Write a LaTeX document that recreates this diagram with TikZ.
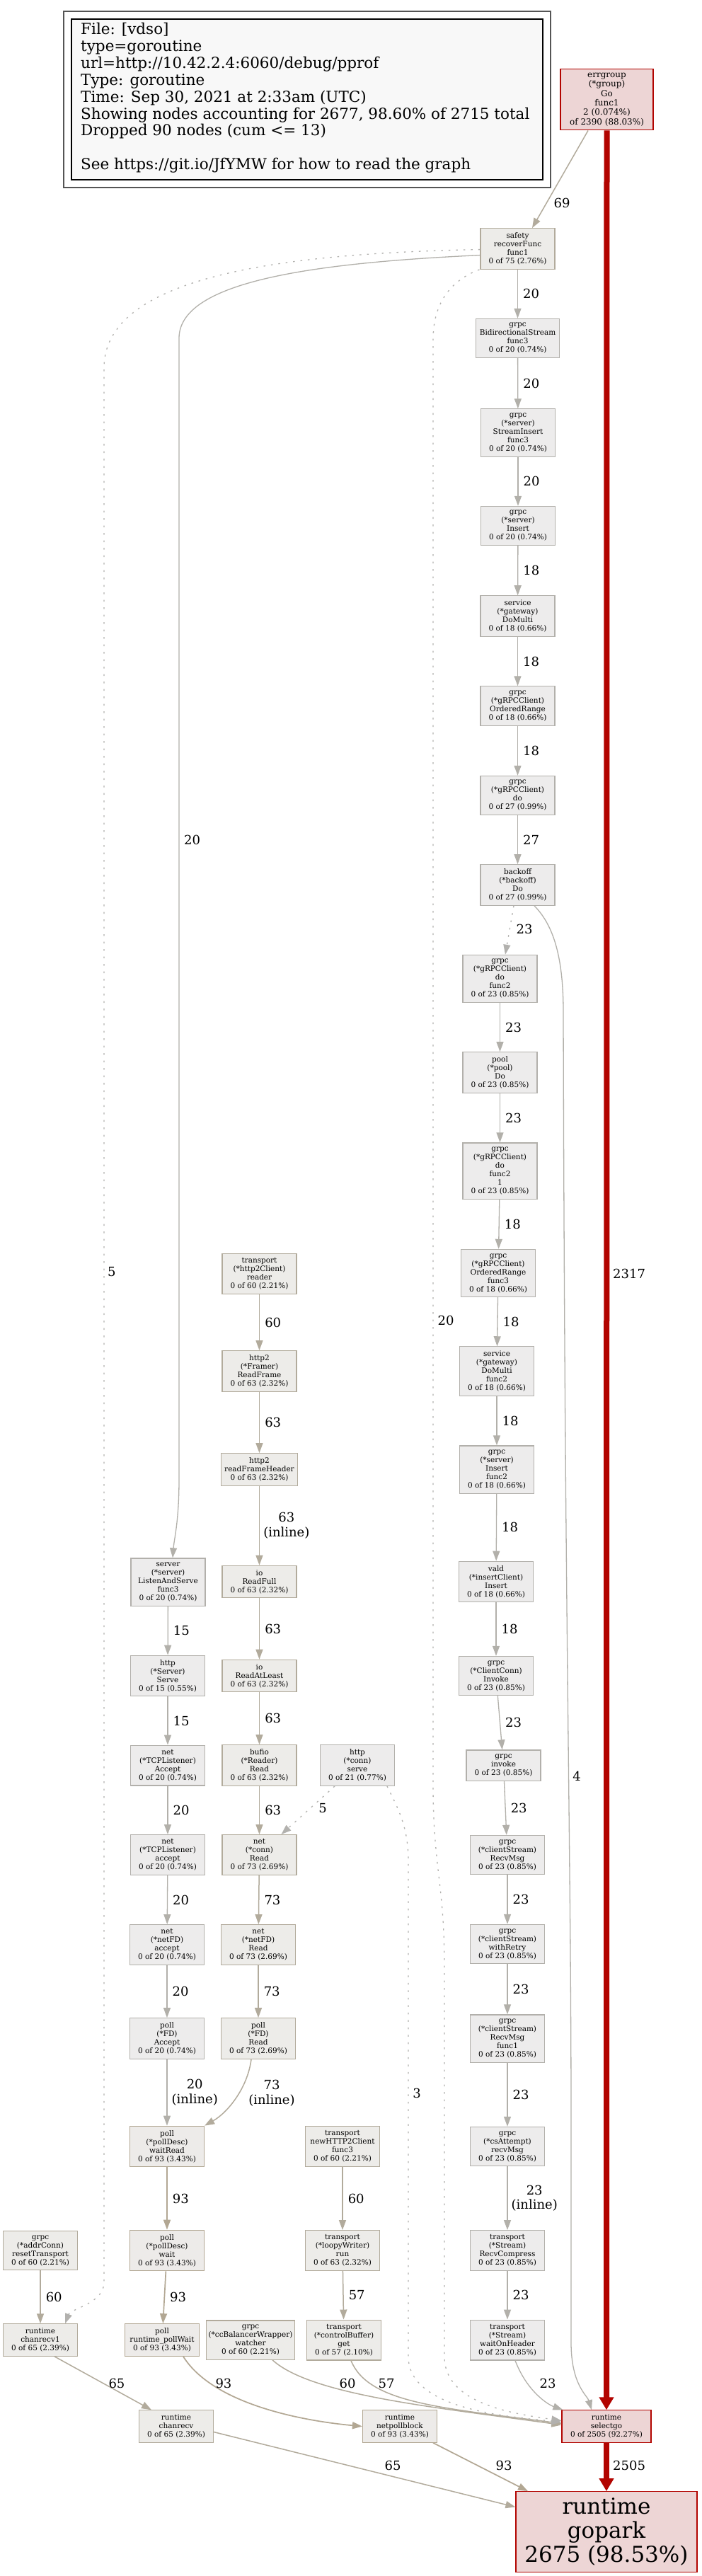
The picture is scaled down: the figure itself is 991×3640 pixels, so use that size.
\documentclass[tikz,border=0pt]{standalone}
\usepackage{fontspec}
\setmainfont{DejaVu Serif}
\usetikzlibrary{arrows.meta}
\definecolor{fillS}{HTML}{EDECEC}
\definecolor{fillM}{HTML}{EDECE9}
\definecolor{fillH}{HTML}{EDEBE9}
\definecolor{fillR}{HTML}{EDD5D5}
\definecolor{bordS}{HTML}{B2B0AB}
\definecolor{bordM}{HTML}{B2AB9C}
\definecolor{bordH}{HTML}{B2A793}
\definecolor{bordR}{HTML}{B20400}
\definecolor{edgeS}{HTML}{B2B0AA}
\definecolor{edgeD}{HTML}{B2B1AE}
\definecolor{edgeM}{HTML}{B2AB9C}
\definecolor{edgeH}{HTML}{B2A793}
\definecolor{edgeR}{HTML}{B20400}
\definecolor{legfill}{HTML}{F8F8F8}
\definecolor{legout}{HTML}{555555}
\newcommand\pfNode{\fontsize{10.5}{12}\selectfont}
\newcommand\pfErr{\fontsize{12}{13.3}\selectfont}
\newcommand\pfLab{\fontsize{18}{20.7}\selectfont}
\newcommand\pfLeg{\fontsize{21.5}{23.9}\selectfont}
\newcommand\pfBig{\fontsize{31}{34}\selectfont}
\tikzset{
  fnS/.style={draw=bordS, fill=fillS, line width=1.2pt, font=\pfNode, align=center, inner xsep=5pt, inner ysep=6pt, minimum width=105pt},
  fnM/.style={fnS, draw=bordM, fill=fillM},
  fnH/.style={fnS, draw=bordH, fill=fillH},
  fnR/.style={fnS, draw=bordR, fill=fillR},
  eS/.style={draw=edgeS, line width=1.3pt, -{Triangle[length=14pt,width=10pt]}},
  eD/.style={draw=edgeD, line width=1.3pt, dash pattern=on 2.5pt off 8pt, -{Triangle[length=14pt,width=10pt]}},
  eM/.style={draw=edgeM, line width=1.5pt, -{Triangle[length=14pt,width=10pt]}},
  eH/.style={draw=edgeH, line width=1.7pt, -{Triangle[length=14pt,width=10pt]}},
  eR/.style={draw=edgeR, line width=8pt, -{Triangle[length=18pt,width=20pt]}},
  lab/.style={font=\pfLab, anchor=west, inner sep=0pt, xshift=7pt, align=center},
  labA/.style={font=\pfLab, inner sep=0pt, align=center},
}
\begin{document}
\begin{tikzpicture}[x=1pt,y=-1pt]
\fill[white] (0,0) rectangle (991,3640);
\useasboundingbox (0,0) rectangle (991,3640);

% legend
\draw[legout, line width=1.5pt] (90,16) rectangle (778,265);
\draw[black, line width=1.5pt, fill=legfill] (101,27) rectangle (767,254);
\node[anchor=north west, align=left, font=\pfLeg, inner sep=0pt] (legend) at (114,32)
 {File: [vdso]\\type=goroutine\\url=http://10.42.2.4:6060/debug/pprof\\Type: goroutine\\Time: Sep 30, 2021 at 2:33am (UTC)\\Showing nodes accounting for 2677, 98.60\% of 2715 total\\Dropped 90 nodes (cum <= 13)\\[23.9pt]See https://git.io/JfYMW for how to read the graph};

% right chain
\node[fnR, font=\pfErr, minimum width=131pt] (errgroup) at (857.5,140.5) {errgroup\\(*group)\\Go\\func1\\2 (0.074\%)\\of 2390 (88.03\%)};
\node[fnM] (safety) at (731.5,351.6) {safety\\recoverFunc\\func1\\0 of 75 (2.76\%)};
\node[fnS] (bidi) at (731.5,478) {grpc\\BidirectionalStream\\func3\\0 of 20 (0.74\%)};
\node[fnS] (sinsert) at (732,611.5) {grpc\\(*server)\\StreamInsert\\func3\\0 of 20 (0.74\%)};
\node[fnS] (insert) at (732,743) {grpc\\(*server)\\Insert\\0 of 20 (0.74\%)};
\node[fnS] (domulti) at (731.5,870.5) {service\\(*gateway)\\DoMulti\\0 of 18 (0.66\%)};
\node[fnS] (orange) at (731.5,997.5) {grpc\\(*gRPCClient)\\OrderedRange\\0 of 18 (0.66\%)};
\node[fnS] (do) at (731.5,1124) {grpc\\(*gRPCClient)\\do\\0 of 27 (0.99\%)};
\node[fnS] (backoff) at (731.5,1250.5) {backoff\\(*backoff)\\Do\\0 of 27 (0.99\%)};
\node[fnS] (dofa) at (706.5,1383) {grpc\\(*gRPCClient)\\do\\func2\\0 of 23 (0.85\%)};
\node[fnS] (pool) at (706.5,1515.5) {pool\\(*pool)\\Do\\0 of 23 (0.85\%)};
\node[fnS] (dofb) at (706.5,1654.5) {grpc\\(*gRPCClient)\\do\\func2\\1\\0 of 23 (0.85\%)};
\node[fnS] (orf3) at (704,1799) {grpc\\(*gRPCClient)\\OrderedRange\\func3\\0 of 18 (0.66\%)};
\node[fnS] (dmf2) at (702,1937.5) {service\\(*gateway)\\DoMulti\\func2\\0 of 18 (0.66\%)};
\node[fnS] (insf2) at (702,2076.5) {grpc\\(*server)\\Insert\\func2\\0 of 18 (0.66\%)};
\node[fnS] (vald) at (701,2235) {vald\\(*insertClient)\\Insert\\0 of 18 (0.66\%)};
\node[fnS] (ccinv) at (701,2368) {grpc\\(*ClientConn)\\Invoke\\0 of 23 (0.85\%)};
\node[fnS] (invoke) at (711.5,2494.5) {grpc\\invoke\\0 of 23 (0.85\%)};
\node[fnS] (recvmsg) at (717,2621) {grpc\\(*clientStream)\\RecvMsg\\0 of 23 (0.85\%)};
\node[fnS] (retry) at (717,2747) {grpc\\(*clientStream)\\withRetry\\0 of 23 (0.85\%)};
\node[fnS] (recvf1) at (717,2880.5) {grpc\\(*clientStream)\\RecvMsg\\func1\\0 of 23 (0.85\%)};
\node[fnS] (csatt) at (717,3033) {grpc\\(*csAttempt)\\recvMsg\\0 of 23 (0.85\%)};
\node[fnS] (rcomp) at (717,3180) {transport\\(*Stream)\\RecvCompress\\0 of 23 (0.85\%)};
\node[fnS] (waithdr) at (717,3306.5) {transport\\(*Stream)\\waitOnHeader\\0 of 23 (0.85\%)};
\node[fnR, minimum width=126pt] (selectgo) at (857,3428.5) {runtime\\selectgo\\0 of 2505 (92.27\%)};
\node[fnR, font=\pfBig, minimum width=256pt, inner ysep=9pt] (gopark) at (857,3577.5) {runtime\\gopark\\2675 (98.53\%)};

% reader column
\node[fnM] (reader) at (366.5,1800) {transport\\(*http2Client)\\reader\\0 of 60 (2.21\%)};
\node[fnM] (rframe) at (366.5,1937.5) {http2\\(*Framer)\\ReadFrame\\0 of 63 (2.32\%)};
\node[fnM] (rfh) at (366.5,2076.5) {http2\\readFrameHeader\\0 of 63 (2.32\%)};
\node[fnM] (rfull) at (366.5,2235) {io\\ReadFull\\0 of 63 (2.32\%)};
\node[fnM] (ratl) at (366.5,2368) {io\\ReadAtLeast\\0 of 63 (2.32\%)};
\node[fnM] (bufio) at (366.5,2494.5) {bufio\\(*Reader)\\Read\\0 of 63 (2.32\%)};
\node[fnM] (connrd) at (366.5,2621) {net\\(*conn)\\Read\\0 of 73 (2.69\%)};
\node[fnM] (fdrd) at (365,2748) {net\\(*netFD)\\Read\\0 of 73 (2.69\%)};
\node[fnM] (pfdrd) at (365,2880.5) {poll\\(*FD)\\Read\\0 of 73 (2.69\%)};

% left column
\node[fnS] (las) at (237.5,2235.5) {server\\(*server)\\ListenAndServe\\func3\\0 of 20 (0.74\%)};
\node[fnS] (serve) at (237,2368) {http\\(*Server)\\Serve\\0 of 15 (0.55\%)};
\node[fnS] (tcpA) at (237,2494.5) {net\\(*TCPListener)\\Accept\\0 of 20 (0.74\%)};
\node[fnS] (tcpa) at (237,2621) {net\\(*TCPListener)\\accept\\0 of 20 (0.74\%)};
\node[fnS] (fdacc) at (236,2748) {net\\(*netFD)\\accept\\0 of 20 (0.74\%)};
\node[fnS] (pfdacc) at (236,2880.5) {poll\\(*FD)\\Accept\\0 of 20 (0.74\%)};
\node[fnH] (wread) at (236,3033) {poll\\(*pollDesc)\\waitRead\\0 of 93 (3.43\%)};
\node[fnH] (wait) at (236,3180) {poll\\(*pollDesc)\\wait\\0 of 93 (3.43\%)};
\node[fnH, inner xsep=3pt] (pwait) at (229,3306.5) {poll\\runtime\_pollWait\\0 of 93 (3.43\%)};
\node[fnH] (npb) at (565,3428.5) {runtime\\netpollblock\\0 of 93 (3.43\%)};

% others
\node[fnS] (cserve) at (505,2494.5) {http\\(*conn)\\serve\\0 of 21 (0.77\%)};
\node[fnM] (newh2c) at (484,3033) {transport\\newHTTP2Client\\func3\\0 of 60 (2.21\%)};
\node[fnM] (loopy) at (484,3180) {transport\\(*loopyWriter)\\run\\0 of 63 (2.32\%)};
\node[fnM] (cbget) at (486,3306.5) {transport\\(*controlBuffer)\\get\\0 of 57 (2.10\%)};
\node[fnM, inner xsep=3pt] (watcher) at (354,3306.5) {grpc\\(*ccBalancerWrapper)\\watcher\\0 of 60 (2.21\%)};
\node[fnM] (reset) at (57,3180) {grpc\\(*addrConn)\\resetTransport\\0 of 60 (2.21\%)};
\node[fnM] (crecv1) at (57,3306.5) {runtime\\chanrecv1\\0 of 65 (2.39\%)};
\node[fnM] (crecv) at (249,3428.5) {runtime\\chanrecv\\0 of 65 (2.39\%)};

% red edges
\draw[eR] (errgroup.south) -- (selectgo.north);
\node[labA, anchor=west] (l2317) at (866,1800) {2317};
\draw[eR] (selectgo.south) -- (gopark.north);
\node[labA, anchor=west] (l2505) at (866,3484) {2505};

% errgroup -> safety
\draw[eM] ([xshift=-26.5pt]errgroup.south) -- ([xshift=20.5pt]safety.north);
\node[labA] (l69) at (794,287) {69};

% right chain
\draw[eS] (safety) -- node[lab]{20} (bidi);
\draw[eS] (bidi) -- node[lab]{20} (sinsert);
\draw[eS] (sinsert) -- node[lab]{20} (insert);
\draw[eS] (insert) -- node[lab]{18} (domulti);
\draw[eS] (domulti) -- node[lab]{18} (orange);
\draw[eS] (orange) -- node[lab]{18} (do);
\draw[eS] (do) -- node[lab]{27} (backoff);
\draw[eD] ([xshift=-5.5pt]backoff.south) -- ([xshift=7.5pt]dofa.north);
\node[labA] (l23a) at (741,1313) {23};
\draw[eS] (dofa) -- node[lab]{23} (pool);
\draw[eS] (pool) -- node[lab]{23} (dofb);
\draw[eS] (dofb) -- node[lab]{18} (orf3);
\draw[eS] (orf3) -- node[lab]{18} (dmf2);
\draw[eS] (dmf2) -- node[lab]{18} (insf2);
\draw[eS] (insf2) -- node[lab]{18} (vald);
\draw[eS] (vald) -- node[lab]{18} (ccinv);
\draw[eS] (ccinv) -- node[lab]{23} (invoke);
\draw[eS] (invoke) -- node[lab]{23} (recvmsg);
\draw[eS] (recvmsg) -- node[lab]{23} (retry);
\draw[eS] (retry) -- node[lab]{23} (recvf1);
\draw[eS] (recvf1) -- node[lab]{23} (csatt);
\draw[eS] (csatt) -- node[lab, xshift=-2pt]{23\\(inline)} (rcomp);
\draw[eS] (rcomp) -- node[lab]{23} (waithdr);

% reader chain
\draw[eM] (reader) -- node[lab]{60} (rframe);
\draw[eM] (rframe) -- node[lab]{63} (rfh);
\draw[eM] (rfh) -- node[lab, xshift=-2pt]{63\\(inline)} (rfull);
\draw[eM] (rfull) -- node[lab]{63} (ratl);
\draw[eM] (ratl) -- node[lab]{63} (bufio);
\draw[eM] (bufio) -- node[lab]{63} (connrd);
\draw[eM] (connrd) -- node[lab]{73} (fdrd);
\draw[eM] (fdrd) -- node[lab]{73} (pfdrd);
\draw[eM] ([xshift=-10pt]pfdrd.south) .. controls (350,2950) and (322,2985) .. (wread.north east);
\node[labA] (l73i) at (384,2958) {73\\(inline)};

% left chain
\draw[eS] (las) -- node[lab]{15} (serve);
\draw[eS] (serve) -- node[lab]{15} (tcpA);
\draw[eS] (tcpA) -- node[lab]{20} (tcpa);
\draw[eS] (tcpa) -- node[lab]{20} (fdacc);
\draw[eS] (fdacc) -- node[lab]{20} (pfdacc);
\draw[eS] (pfdacc) -- node[lab, xshift=-1pt]{20\\(inline)} (wread);
\draw[eH] (wread) -- node[lab]{93} (wait);
\draw[eH] (wait) -- node[lab]{93} (pwait);
\draw[eH] ([xshift=30pt]pwait.south) .. controls (300,3395) and (420,3420) .. (npb.west);
\node[labA] (l93c) at (316,3368) {93};
\draw[eH] ([xshift=47pt]npb.south) -- ([xshift=-111pt]gopark.north);
\node[labA] (l93d) at (712,3484) {93};

% other chains
\draw[eM] (newh2c) -- node[lab]{60} (loopy);
\draw[eM] (loopy) -- node[lab]{57} (cbget);
\draw[eM] ([xshift=10pt]cbget.south) .. controls (520,3395) and (620,3402) .. ([yshift=4pt]selectgo.west);
\node[labA] (l57b) at (546,3368) {57};
\draw[eM] ([xshift=31pt]watcher.south) .. controls (440,3385) and (620,3402) .. ([yshift=2pt]selectgo.west);
\node[labA] (l60w) at (491,3368) {60};
\draw[eM] (reset) -- node[lab]{60} (crecv1);
\draw[eM] ([xshift=20pt]crecv1.south) -- ([xshift=-35pt]crecv.north);
\node[labA] (l65a) at (165,3368) {65};
\draw[eM] ([yshift=-8pt]crecv.east) -- ([yshift=35pt]gopark.west);
\node[labA] (l65b) at (555,3484) {65};

% waitOnHeader -> selectgo
\draw[eS] ([xshift=11pt]waithdr.south) .. controls (745,3380) and (775,3398) .. ([xshift=2pt]selectgo.north west);
\node[labA] (l23z) at (774,3368) {23};

% backoff -> selectgo
\draw[eS] ([xshift=23.5pt]backoff.south) .. controls (785,1310) and (796,1360) .. (796,1430) .. controls (798,2300) and (807,2600) .. (807,3000) -- (807,3310) .. controls (807,3370) and (830,3385) .. ([xshift=-21pt]selectgo.north);
\node[labA] (l4) at (815,2510) {4};

% safety -> ListenAndServe
\draw[eS] ([yshift=-9pt]safety.west) .. controls (430,372) and (253,400) .. (253,478) -- (253,2090) .. controls (253,2150) and (246,2175) .. ([xshift=6.5pt]las.north);
\node[labA, anchor=west] (l20a) at (260,1187) {20};

% dotted long edges
\draw[eD] ([yshift=-1pt]safety.west) .. controls (380,358) and (147,395) .. (147,520) -- (147,3225) .. controls (147,3255) and (100,3262) .. ([xshift=35pt]crecv1.north);
\node[labA, anchor=west] (l5a) at (152,1797) {5};
\draw[eD] ([xshift=-1pt]safety.south west) .. controls (640,395) and (612,425) .. (612,480) -- (612,2520) .. controls (612,2640) and (628,2660) .. (628,2780) -- (628,3330) .. controls (628,3395) and (720,3410) .. ([yshift=8pt]selectgo.west);
\node[labA] (l20b) at (630,1866) {20};
\draw[eD] ([xshift=42pt]cserve.south) .. controls (562,2555) and (577,2580) .. (577,2630) -- (577,3330) .. controls (577,3405) and (720,3415) .. ([yshift=6pt]selectgo.west);
\node[labA] (l3) at (589,2958) {3};
\draw[eD] ([xshift=-32pt]cserve.south) -- ([xshift=31pt]connrd.north);
\node[labA] (l5b) at (456,2555) {5};
\end{tikzpicture}
\end{document}
